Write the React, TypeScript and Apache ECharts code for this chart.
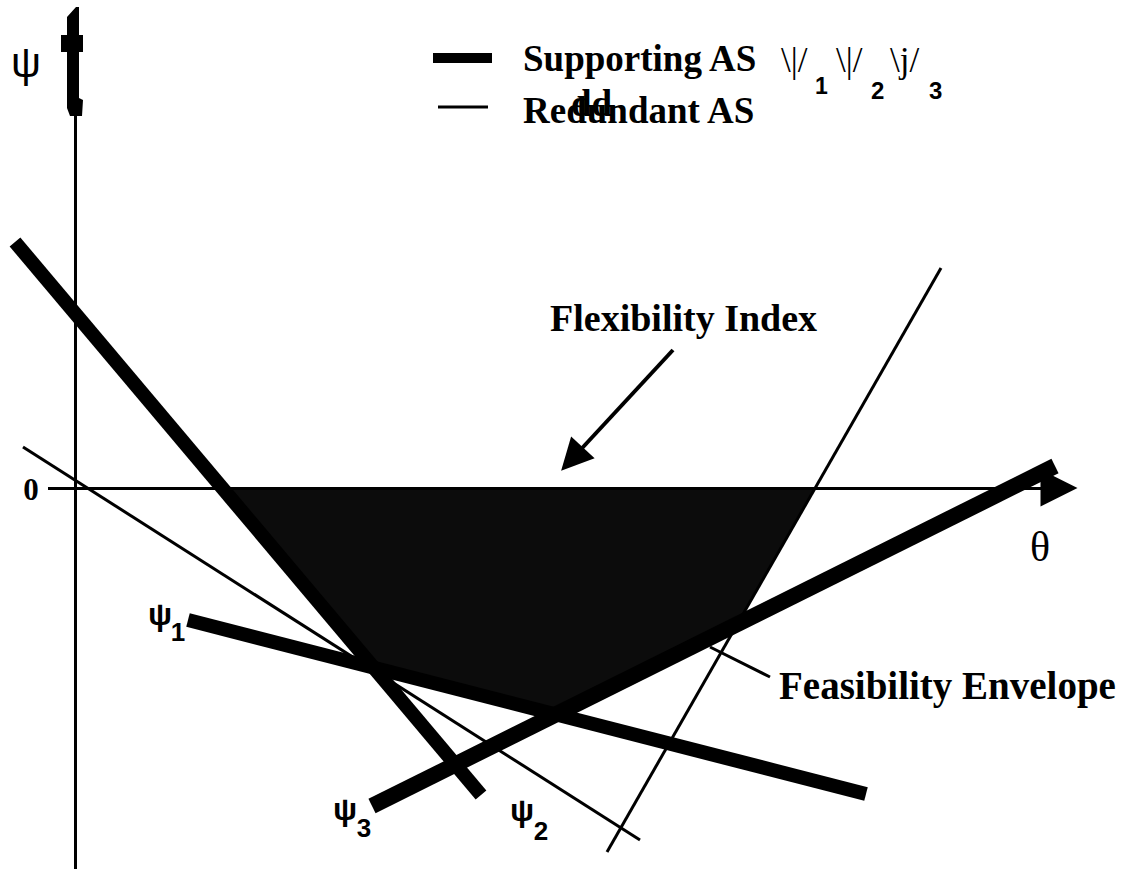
import React, { useEffect, useRef } from "react";
import * as echarts from "echarts";

// θ–ψ plane, origin at the axes' crossing (units: schematic)
const psi1 = [[113, -132], [791, -306]];
const psi2 = [[-60, 246], [406, -307]];
const psi3 = [[297, -318], [980, 22]];
const redundantA = [[-52, 41], [565, -352]];
const redundantB = [[866, 220], [532, -364]];
const envelope = [[147, 0], [740, 0], [662, -136], [481, -226], [299, -180]];
const thetaAxis = [[-27, 0], [984, 0]];
const psiAxis = [[0, -381], [0, 372]];
const flexArrow = [[598, 138], [497, 29]];
const envelopeLeader = [[635, -159], [695, -189]];

const SERIF = "'Liberation Serif', 'Times New Roman', serif";
const SANS = "'Liberation Sans', Arial, sans-serif";

function txt(text: string, x: number, y: number, font: string, align = "left") {
  return {
    type: "text",
    x,
    y,
    silent: true,
    style: {
      text,
      font,
      fill: "#000",
      textAlign: align,
      textVerticalAlign: "middle",
      verticalAlign: "middle",
    },
  };
}

export default function App() {
  const ref = useRef<HTMLDivElement>(null);
  useEffect(() => {
    if (!ref.current) return;
    const chart = echarts.init(ref.current, undefined, { renderer: "svg" });
    const seg = (c: number[][], w: number) => ({
      coords: c,
      lineStyle: { width: w, color: "#000", opacity: 1, cap: "butt" },
    });
    const option: any = {
      animation: false,
      backgroundColor: "#fff",
      grid: { left: 0, right: 0, top: 0, bottom: 0 },
      xAxis: { type: "value", min: -75, max: 1053, show: false },
      yAxis: { type: "value", min: -381, max: 488, show: false },
      series: [
        {
          type: "custom",
          coordinateSystem: "cartesian2d",
          silent: true,
          data: [envelope[0]],
          renderItem: (_p: any, api: any) => ({
            type: "polygon",
            shape: { points: envelope.map((p) => api.coord(p)) },
            style: { fill: "#0c0c0c" },
          }),
          z: 1,
        },
        {
          type: "lines",
          coordinateSystem: "cartesian2d",
          silent: true,
          symbol: "none",
          data: [seg(psiAxis, 3), seg(redundantA, 3), seg(redundantB, 3), seg(envelopeLeader, 3)],
          z: 2,
        },
        {
          type: "lines",
          coordinateSystem: "cartesian2d",
          silent: true,
          symbol: ["none", "triangle"],
          symbolSize: [13, 37],
          data: [seg(thetaAxis, 3)],
          z: 2,
        },
        {
          type: "lines",
          coordinateSystem: "cartesian2d",
          silent: true,
          symbol: ["none", "triangle"],
          symbolSize: [16, 32],
          data: [seg(flexArrow, 4)],
          z: 2,
        },
        {
          type: "lines",
          coordinateSystem: "cartesian2d",
          silent: true,
          symbol: "none",
          data: [seg(psi1, 14), seg(psi2, 14), seg(psi3, 16)],
          z: 3,
        },
      ],
      graphic: [
        // arrow head of the ψ axis (drawn like a bold "t")
        {
          type: "polygon",
          silent: true,
          shape: {
            points: [[67, 17], [76, 7], [79, 7], [79, 98], [83, 100], [82, 116], [70, 116], [67, 108]],
          },
          style: { fill: "#000" },
        },
        { type: "rect", silent: true, shape: { x: 61, y: 35, width: 22, height: 17 }, style: { fill: "#000" } },
        // legend swatches
        { type: "rect", silent: true, shape: { x: 433, y: 53, width: 59, height: 10 }, style: { fill: "#000" } },
        { type: "line", silent: true, shape: { x1: 438, y1: 107, x2: 488, y2: 107 }, style: { stroke: "#000", lineWidth: 3 } },
        txt("Supporting AS", 523, 58, `bold 37px ${SERIF}`),
        txt("Redundant AS", 523, 110, `bold 37px ${SERIF}`),
        txt("dd", 571, 103, `bold 37px ${SERIF}`),
        txt("\\|/", 781, 60, `35px ${SERIF}`),
        txt("1", 815, 86, `bold 23px ${SANS}`),
        txt("\\|/", 836, 60, `35px ${SERIF}`),
        txt("2", 871, 90, `bold 24px ${SANS}`),
        txt("\\j/", 890, 60, `35px ${SERIF}`),
        txt("3", 929, 90, `bold 24px ${SANS}`),
        txt("ψ", 26, 62, `42px ${SANS}`, "center"),
        txt("Flexibility Index", 550, 318, `bold 38px ${SERIF}`),
        txt("Feasibility Envelope", 779, 685, `bold 39px ${SERIF}`),
        txt("0", 31, 489, `bold 31px ${SERIF}`, "center"),
        txt("θ", 1040, 547, `42px ${SERIF}`, "center"),
        txt("ψ", 160, 614, `bold 32px ${SANS}`, "center"),
        txt("1", 178, 632, `bold 26px ${SANS}`, "center"),
        txt("ψ", 345, 809, `bold 32px ${SANS}`, "center"),
        txt("3", 364, 828, `bold 26px ${SANS}`, "center"),
        txt("ψ", 522, 810, `bold 32px ${SANS}`, "center"),
        txt("2", 541, 831, `bold 26px ${SANS}`, "center"),
      ],
    };
    chart.setOption(option);
    return () => chart.dispose();
  }, []);
  return (
    <div
      ref={ref}
      style={{ position: "absolute", left: 0, top: 0, width: 1128, height: 869, background: "#fff" }}
    />
  );
}
